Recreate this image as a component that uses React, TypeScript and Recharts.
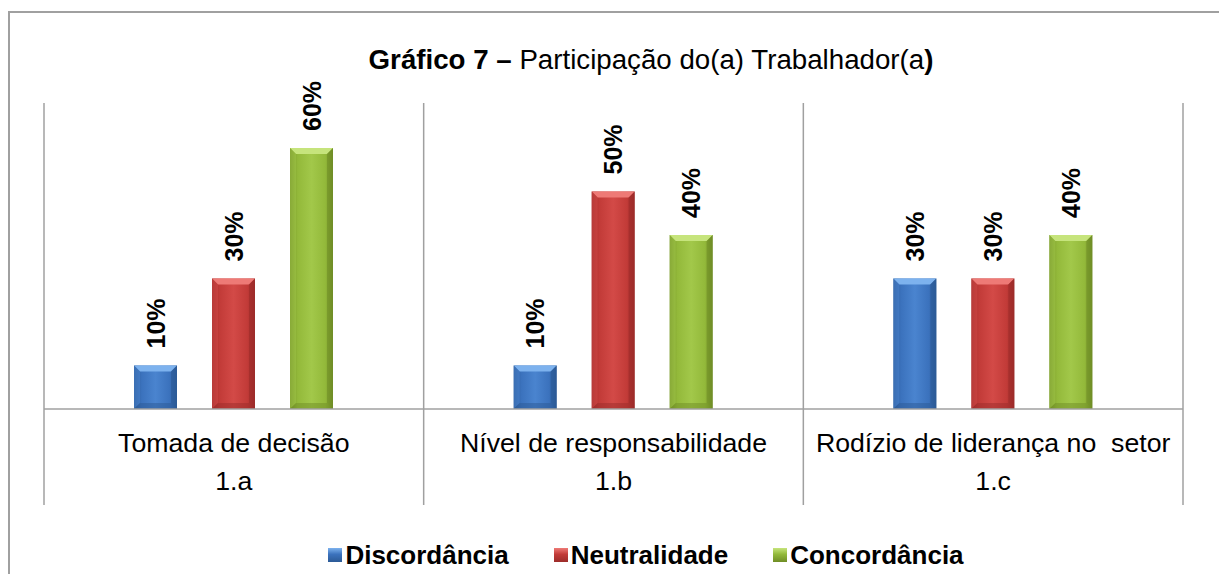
import { BarChart, Bar, XAxis, YAxis, LabelList } from 'recharts';

const CATEGORIES = [
  'Tomada de decisão',
  'Nível de responsabilidade',
  'Rodízio de liderança no  setor',
];
const CODES = ['1.a', '1.b', '1.c'];

const DISCORDANCIA = [0.1, 0.1, 0.3];
const NEUTRALIDADE = [0.3, 0.5, 0.3];
const CONCORDANCIA = [0.6, 0.4, 0.4];

const SERIES = [
  { key: 'disc', name: 'Discordância', values: DISCORDANCIA, dark: '#2c5a96', mid: '#3b72bd', light: '#4a84cf', top: '#7db2ee' },
  { key: 'neut', name: 'Neutralidade', values: NEUTRALIDADE, dark: '#9c2c2a', mid: '#c23b38', light: '#d34a47', top: '#ee7a76' },
  { key: 'conc', name: 'Concordância', values: CONCORDANCIA, dark: '#6f8d26', mid: '#93b93a', light: '#a2c84a', top: '#c6e47c' },
];

const FONT = '"Liberation Sans", Arial, sans-serif';
const GRID = '#a0a0a0';

const data = CATEGORIES.map((name, i) => {
  const row: any = { name, code: CODES[i] };
  SERIES.forEach((s) => (row[s.key] = s.values[i]));
  return row;
});

function BevelBar(props: any) {
  const { x, y, width: w, height: h, seriesKey } = props;
  const s = SERIES.find((d) => d.key === seriesKey)!;
  if (!h || h <= 0) return null;
  const b = Math.min(6, h / 2);
  return (
    <g>
      <rect x={x} y={y} width={w} height={h} fill={`url(#grad-${seriesKey})`} />
      <polygon
        points={`${x},${y} ${x + w},${y} ${x + w - b},${y + b} ${x + b},${y + b}`}
        fill={s.top}
      />
      <polygon
        points={`${x},${y} ${x + b},${y + b} ${x + b},${y + h - b} ${x},${y + h}`}
        fill={s.light}
        opacity={0.5}
      />
      <polygon
        points={`${x + w},${y} ${x + w - b},${y + b} ${x + w - b},${y + h - b} ${x + w},${y + h}`}
        fill={s.dark}
        opacity={0.6}
      />
      <polygon
        points={`${x},${y + h} ${x + b},${y + h - b} ${x + w - b},${y + h - b} ${x + w},${y + h}`}
        fill={s.dark}
        opacity={0.5}
      />
    </g>
  );
}

function BarLabel(props: any) {
  const { x, y, width, value } = props;
  const cx = x + width / 2 + 9;
  const ty = y - 17;
  return (
    <text
      x={cx}
      y={ty}
      transform={`rotate(-90, ${cx}, ${ty})`}
      textAnchor="start"
      fontFamily={FONT}
      fontWeight="bold"
      fontSize={25}
      fill="#000"
    >
      {`${Math.round(value * 100)}%`}
    </text>
  );
}

function CategoryTick(props: any) {
  const { x, y, payload } = props;
  return (
    <text
      x={x}
      y={y + 43}
      textAnchor="middle"
      fontFamily={FONT}
      fontSize={26.7}
      fill="#000"
      style={{ whiteSpace: 'pre' }}
    >
      {payload.value}
    </text>
  );
}

// second level of the axis: group code plus the vertical dividers
function CodeTick(props: any) {
  const { x, y, payload, index } = props;
  const half = payload.offset ?? 189.8;
  const top = -360;
  const bottom = 42;
  return (
    <g>
      <line x1={x - half} x2={x - half} y1={y + top} y2={y + bottom} stroke={GRID} strokeWidth={1.5} />
      {index === CATEGORIES.length - 1 && (
        <line x1={x + half} x2={x + half} y1={y + top} y2={y + bottom} stroke={GRID} strokeWidth={1.5} />
      )}
      <text x={x} y={y + 27} textAnchor="middle" fontFamily={FONT} fontSize={26.7} fill="#000">
        {payload.value}
      </text>
    </g>
  );
}

export default function App() {
  return (
    <div
      style={{
        position: 'absolute',
        left: 8,
        top: 8,
        width: 1211,
        height: 566,
        overflow: 'hidden',
        fontFamily: FONT,
        background: '#fff',
      }}
    >
      <div
        style={{
          position: 'absolute',
          left: 0,
          top: 3,
          width: 1400,
          height: 700,
          borderLeft: `2px solid ${GRID}`,
          borderTop: `2px solid ${GRID}`,
        }}
      />
      <div
        style={{
          position: 'absolute',
          left: 43,
          top: 38,
          width: 1200,
          textAlign: 'center',
          fontSize: 27.7,
          lineHeight: '28px',
          whiteSpace: 'pre',
          color: '#000',
        }}
      >
        <b>Gráfico 7 –</b> Participação do(a) Trabalhador(a<b>)</b>
      </div>
      <BarChart
        width={1211}
        height={566}
        data={data}
        margin={{ top: 96.5, right: 36, left: 36, bottom: 51 }}
        barSize={43}
        barGap={35}
        style={{ position: 'absolute', left: 0, top: 0 }}
      >
        <defs>
          {SERIES.map((s) => (
            <linearGradient key={s.key} id={`grad-${s.key}`} x1="0" y1="0" x2="1" y2="0">
              <stop offset="0%" stopColor={s.dark} />
              <stop offset="18%" stopColor={s.mid} />
              <stop offset="50%" stopColor={s.light} />
              <stop offset="82%" stopColor={s.mid} />
              <stop offset="100%" stopColor={s.dark} />
            </linearGradient>
          ))}
        </defs>
        <XAxis
          dataKey="name"
          xAxisId={0}
          height={54}
          tickLine={false}
          tickSize={0}
          tickMargin={0}
          axisLine={{ stroke: GRID, strokeWidth: 1.5 }}
          tick={<CategoryTick />}
          interval={0}
        />
        <XAxis
          dataKey="code"
          xAxisId="code"
          height={60}
          tickLine={false}
          tickSize={0}
          tickMargin={0}
          axisLine={false}
          tick={<CodeTick />}
          interval={0}
        />
        <YAxis hide domain={[0, 0.7]} />
        {SERIES.map((s) => (
          <Bar
            key={s.key}
            dataKey={s.key}
            name={s.name}
            xAxisId={0}
            fill={s.mid}
            isAnimationActive={false}
            shape={(p: any) => <BevelBar {...p} seriesKey={s.key} />}
          >
            <LabelList dataKey={s.key} content={<BarLabel />} />
          </Bar>
        ))}
      </BarChart>
      <div
        style={{
          position: 'absolute',
          left: 38,
          top: 534,
          width: 1200,
          display: 'flex',
          justifyContent: 'center',
          gap: 45,
          fontSize: 26,
          lineHeight: '26px',
          fontWeight: 'bold',
          color: '#000',
        }}
      >
        {SERIES.map((s) => (
          <div key={s.key} style={{ display: 'flex', alignItems: 'center', gap: 3 }}>
            <span
              style={{
                display: 'inline-block',
                width: 14,
                height: 14,
                background: `linear-gradient(180deg, ${s.top} 0%, ${s.mid} 45%, ${s.dark} 100%)`,
              }}
            />
            <span>{s.name}</span>
          </div>
        ))}
      </div>
    </div>
  );
}
